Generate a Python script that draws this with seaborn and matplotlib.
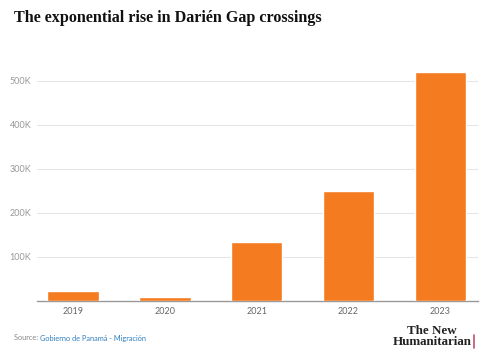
import matplotlib
matplotlib.use("Agg")
import matplotlib.pyplot as plt
import seaborn as sns
import pandas as pd

years = ["2019", "2020", "2021", "2022", "2023"]
crossings = [22102, 8594, 133726, 248284, 520085]
yticks = [100000, 200000, 300000, 400000, 500000]
ytick_labels = ["100K", "200K", "300K", "400K", "500K"]

df = pd.DataFrame({"year": years, "crossings": crossings})

sns.set_theme(style="white")
plt.rcParams['font.family'] = ['Lato', 'DejaVu Sans']

fig = plt.figure(figsize=(4.85, 3.59), dpi=100)
W, H = 485, 359
ax = fig.add_axes([37 / W, 1 - 300.5 / H, (478 - 37) / W, (300.5 - 60) / H])

sns.barplot(data=df, x="year", y="crossings", color="#f47b20", saturation=1,
            width=0.56, ax=ax, zorder=3)

ax.set_xlim(-0.392, 4.41)
ymax = 100000 * (300.5 - 60) / 44.0
ax.set_ylim(0, ymax)
ax.set_yticks(yticks)
ax.set_yticklabels(ytick_labels)
ax.grid(axis="y", color="#e6e6e6", linewidth=0.8, zorder=0)
ax.set_xlabel("")
ax.set_ylabel("")
for s in ["top", "right", "left"]:
    ax.spines[s].set_visible(False)
ax.spines["bottom"].set_color("#999999")
ax.spines["bottom"].set_linewidth(1)
ax.tick_params(axis="y", length=0, labelsize=6.5, labelcolor="#999999", pad=4)
ax.tick_params(axis="x", length=0, labelsize=6.5, labelcolor="#666666", pad=5)

fig.text(14 / W, 1 - 18 / H, "The exponential rise in Darién Gap crossings",
         fontsize=11.6, fontweight="bold", family=["Liberation Serif", "DejaVu Serif"],
         va="center", ha="left", color="#111111")

t1 = fig.text(14 / W, 1 - 338 / H, "Source: ", fontsize=5.3, color="#888888",
              va="center", ha="left")
fig.canvas.draw()
bb = t1.get_window_extent()
fig.text(bb.x1 / W, 1 - 338 / H, "Gobierno de Panamá - Migración", fontsize=5.3,
         color="#2f7fc1", va="center", ha="left")

fig.text(432 / W, 1 - 331 / H, "The New", fontsize=9.4, fontweight="bold",
         family=["Liberation Serif", "DejaVu Serif"], ha="center", va="center", color="#222222")
fig.text(432 / W, 1 - 342 / H, "Humanitarian", fontsize=9.4, fontweight="bold",
         family=["Liberation Serif", "DejaVu Serif"], ha="center", va="center", color="#222222")
fig.add_artist(plt.Line2D([474.5 / W, 474.5 / W], [1 - 335 / H, 1 - 348 / H],
                          color="#c0506e", linewidth=1.2))

fig.savefig("out.png", dpi=100)
